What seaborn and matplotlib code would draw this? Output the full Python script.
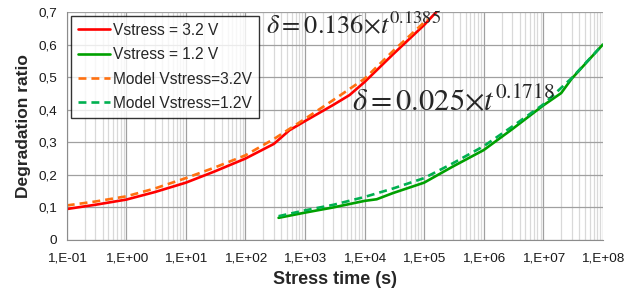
import numpy as np
import pandas as pd
import matplotlib
matplotlib.use("Agg")
import matplotlib.pyplot as plt
from matplotlib.ticker import LogLocator, FuncFormatter, MultipleLocator, NullFormatter
import seaborn as sns

sns.set_style("white")
plt.rcParams.update({
    "font.family": ["Liberation Sans", "DejaVu Sans"],
    "mathtext.fontset": "stix",
})

t_high = [0.1, 0.3, 1, 3, 10, 30, 100, 300, 550, 1000, 3000, 5600, 1e4, 3e4, 1e5, 1.6e5]
d_high = [0.095, 0.108, 0.124, 0.147, 0.176, 0.21, 0.25, 0.295, 0.337, 0.365, 0.415, 0.445,
          0.485, 0.57, 0.66, 0.70]

t_low = [360, 1000, 3000, 1e4, 1.6e4, 3e4, 1e5, 3e5, 1e6, 3e6, 1e7, 2e7, 3e7, 1e8]
d_low = [0.068, 0.084, 0.1, 0.12, 0.125, 0.144, 0.176, 0.225, 0.276, 0.34, 0.413, 0.451,
         0.495, 0.60]

# model curves
t_model_high = [0.1, 0.3, 1, 3, 10, 30, 100, 300, 1000, 3000, 1e4, 3e4, 1e5, 1.15e5]
d_model_high = [0.106, 0.118, 0.134, 0.158, 0.19, 0.222, 0.26, 0.31, 0.372, 0.43, 0.495,
                0.58, 0.668, 0.678]

t_model_low = [360, 1000, 3000, 1e4, 3e4, 1e5, 3e5, 1e6, 3e6, 1e7, 3e7, 1e8]
d_model_low = [0.073, 0.091, 0.108, 0.132, 0.158, 0.19, 0.235, 0.288, 0.348, 0.416, 0.497, 0.60]

x_ticks = [1e-1, 1e0, 1e1, 1e2, 1e3, 1e4, 1e5, 1e6, 1e7, 1e8]
x_tick_labels = ["1,E-01", "1,E+00", "1,E+01", "1,E+02", "1,E+03",
                 "1,E+04", "1,E+05", "1,E+06", "1,E+07", "1,E+08"]
y_ticks = [0, 0.1, 0.2, 0.3, 0.4, 0.5, 0.6, 0.7]
y_tick_labels = ["0", "0,1", "0,2", "0,3", "0,4", "0,5", "0,6", "0,7"]

series = [
    ("Vstress = 3.2 V", t_high, d_high, "#FF0000", "-"),
    ("Vstress = 1.2 V", t_low, d_low, "#00A000", "-"),
    ("Model Vstress=3.2V", t_model_high, d_model_high, "#FF7010", (0, (3.0, 1.9))),
    ("Model Vstress=1.2V", t_model_low, d_model_low, "#00B050", (0, (3.0, 1.9))),
]

fig = plt.figure(figsize=(6.24, 2.93), dpi=100)
ax = fig.add_axes([0.107, 0.181, 0.859, 0.778])

for label, t, d, color, ls in series:
    df = pd.DataFrame({"t": t, "d": d})
    sns.lineplot(data=df, x="t", y="d", ax=ax, color=color, linestyle=ls,
                 linewidth=1.9, label=label, sort=True, estimator=None)

ax.set_xscale("log")
ax.set_xlim(1e-1, 1e8)
ax.set_ylim(0, 0.7)

ax.set_xticks(x_ticks)
ax.set_xticklabels(x_tick_labels)
ax.xaxis.set_minor_locator(LogLocator(base=10, subs=np.arange(2, 10), numticks=200))
ax.xaxis.set_minor_formatter(NullFormatter())
ax.set_yticks(y_ticks)
ax.set_yticklabels(y_tick_labels)

ax.grid(True, which="major", color="#A0A0A0", linewidth=0.9)
ax.grid(True, which="minor", axis="x", color="#D9D9D9", linewidth=0.9)
ax.set_axisbelow(True)

for side in ["top", "right"]:
    ax.spines[side].set_visible(False)
for side in ["left", "bottom"]:
    ax.spines[side].set_color("#8C8C8C")

ax.tick_params(axis="both", which="major", direction="out", length=4,
               color="#8C8C8C", labelsize=9.7, labelcolor="#1A1A1A", pad=3)
ax.tick_params(axis="x", which="minor", length=0)
ax.tick_params(axis="x", which="major", pad=5)

ax.set_xlabel("Stress time (s)", fontsize=13, fontweight="bold", labelpad=5)
ax.set_ylabel("Degradation ratio", fontsize=12.5, fontweight="bold", labelpad=5)

leg = ax.legend(loc="upper left", fontsize=11.2, frameon=True, fancybox=False,
                edgecolor="black", handlelength=2.1, handletextpad=0.15,
                borderaxespad=0.25, labelspacing=0.6, borderpad=0.45)
leg.get_frame().set_linewidth(1.0)

ax.text(0.372, 0.905, r"$\delta = 0.136{\times}t^{0.1385}$", transform=ax.transAxes,
        fontsize=19, ha="left", va="baseline")
ax.text(0.532, 0.57, r"$\delta = 0.025{\times}t^{0.1718}$", transform=ax.transAxes,
        fontsize=22, ha="left", va="baseline")

fig.savefig("out.png", dpi=100)
